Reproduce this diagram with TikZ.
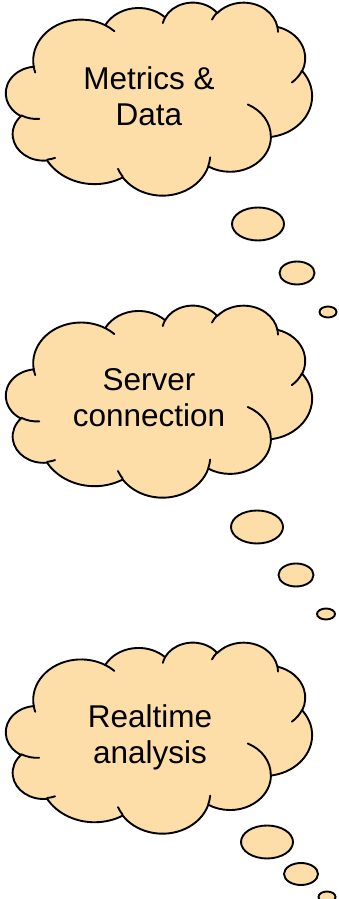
\documentclass[tikz,border=0pt]{standalone}
\usepackage{fontspec}
\setmainfont{Liberation Sans}
\definecolor{cloudfill}{RGB}{253,222,168}

\tikzset{
  % elliptical arc given by radii and true (not parametric) start angle and sweep, y axis pointing down
  ooarc/.style n args={4}{
    x radius=#1pt, y radius=#2pt,
    start angle={atan2(#1*sin(#3),#2*cos(#3))},
    delta angle={mod(atan2(#1*sin(#3+#4),#2*cos(#3+#4))-atan2(#1*sin(#3),#2*cos(#3))+720,360)}
  },
  cloudline/.style={draw=black, line width=1.9pt, line join=round, line cap=round},
  bubble/.style={fill=cloudfill, draw=black, line width=1.9pt},
  cloudtext/.style={align=center, inner sep=0pt, font=\fontsize{31.5}{36}\selectfont}
}

% cloud outline in a 432 x 432 box; arguments: left, top (from the top edge), width, height
\newcommand\drawcloud[4]{%
  \begin{scope}[shift={(#1,899-#2)}, xscale=#3/432, yscale=-#4/432]
    \filldraw[cloudline, fill=cloudfill] (39.00,143.70)
      arc[ooarc={67.53}{91.90}{-190.4875}{123.7805}]
      arc[ooarc={53.33}{72.67}{-144.1024}{89.9452}]
      arc[ooarc={43.65}{59.45}{-145.8079}{99.7230}]
      arc[ooarc={48.57}{65.95}{-130.9861}{117.2417}]
      arc[ooarc={53.33}{72.73}{-78.7089}{109.0269}]
      arc[ooarc={67.75}{92.20}{-46.2673}{130.2690}]
      arc[ooarc={57.85}{78.67}{0.6250}{114.0333}]
      arc[ooarc={67.52}{92.15}{22.4516}{115.1726}]
      arc[ooarc={77.20}{105.43}{66.2426}{75.7110}]
      arc[ooarc={43.60}{59.18}{-274.9421}{146.7356}]
      arc[ooarc={43.45}{59.45}{-246.8285}{152.5189}]
      -- cycle;
    % inner creases of the bumps
    \draw[cloudline] (46.93,261.77) arc[ooarc={43.45}{59.45}{86.7420}{26.4295}];
    \draw[cloudline] (69.28,348.99) arc[ooarc={43.60}{59.18}{73.6105}{11.4475}];
    \draw[cloudline] (164.78,390.90) arc[ooarc={67.52}{92.15}{137.6242}{14.0811}];
    \draw[cloudline] (288.27,347.51) arc[ooarc={67.52}{92.15}{6.4533}{15.9984}];
    \draw[cloudline] (341.29,229.54) arc[ooarc={57.85}{78.67}{-70.2924}{70.9174}];
    \draw[cloudline] (417.98,153.54) arc[ooarc={53.33}{72.73}{30.3180}{27.7515}];
    \draw[cloudline] (383.24,54.26) arc[ooarc={48.57}{65.95}{-13.7443}{14.8589}];
    \draw[cloudline] (290.78,39.52) arc[ooarc={48.57}{65.95}{-149.1815}{18.1954}];
    \draw[cloudline] (221.41,47.20) arc[ooarc={43.65}{59.45}{-163.4943}{17.6864}];
    \draw[cloudline] (140.00,51.92) arc[ooarc={67.53}{91.90}{-66.7070}{12.3194}];
    \draw[cloudline] (41.27,157.89) arc[ooarc={67.53}{91.90}{157.6544}{11.8582}];
  \end{scope}%
}

\begin{document}
\begin{tikzpicture}[x=1pt,y=1pt]
  \useasboundingbox (0,0) rectangle (338,899);

  % first thought
  \drawcloud{6}{2}{306}{193}
  \node[cloudtext] (metrics) at (149,803) {Metrics \&\\Data};
  \draw[bubble] (258,675) ellipse[x radius=26, y radius=16.5];
  \draw[bubble] (297,626) ellipse[x radius=17.5, y radius=11.5];
  \draw[bubble] (328,587) ellipse[x radius=8.5, y radius=5.5];

  % second thought
  \drawcloud{6}{305}{306}{192}
  \node[cloudtext] (server) at (149,501) {Server\\connection};
  \draw[bubble] (257,372) ellipse[x radius=26, y radius=16.5];
  \draw[bubble] (296,324) ellipse[x radius=17.5, y radius=11.5];
  \draw[bubble] (326,285) ellipse[x radius=9, y radius=5.5];

  % third thought
  \drawcloud{6}{642}{306}{191}
  \node[cloudtext] (realtime) at (150,161.5) {Realtime\\analysis};
  \draw[bubble] (267,57) ellipse[x radius=26, y radius=16.5];
  \draw[bubble] (301,25) ellipse[x radius=17, y radius=11];
  \draw[bubble] (327,2) ellipse[x radius=8.5, y radius=5.5];
\end{tikzpicture}
\end{document}
